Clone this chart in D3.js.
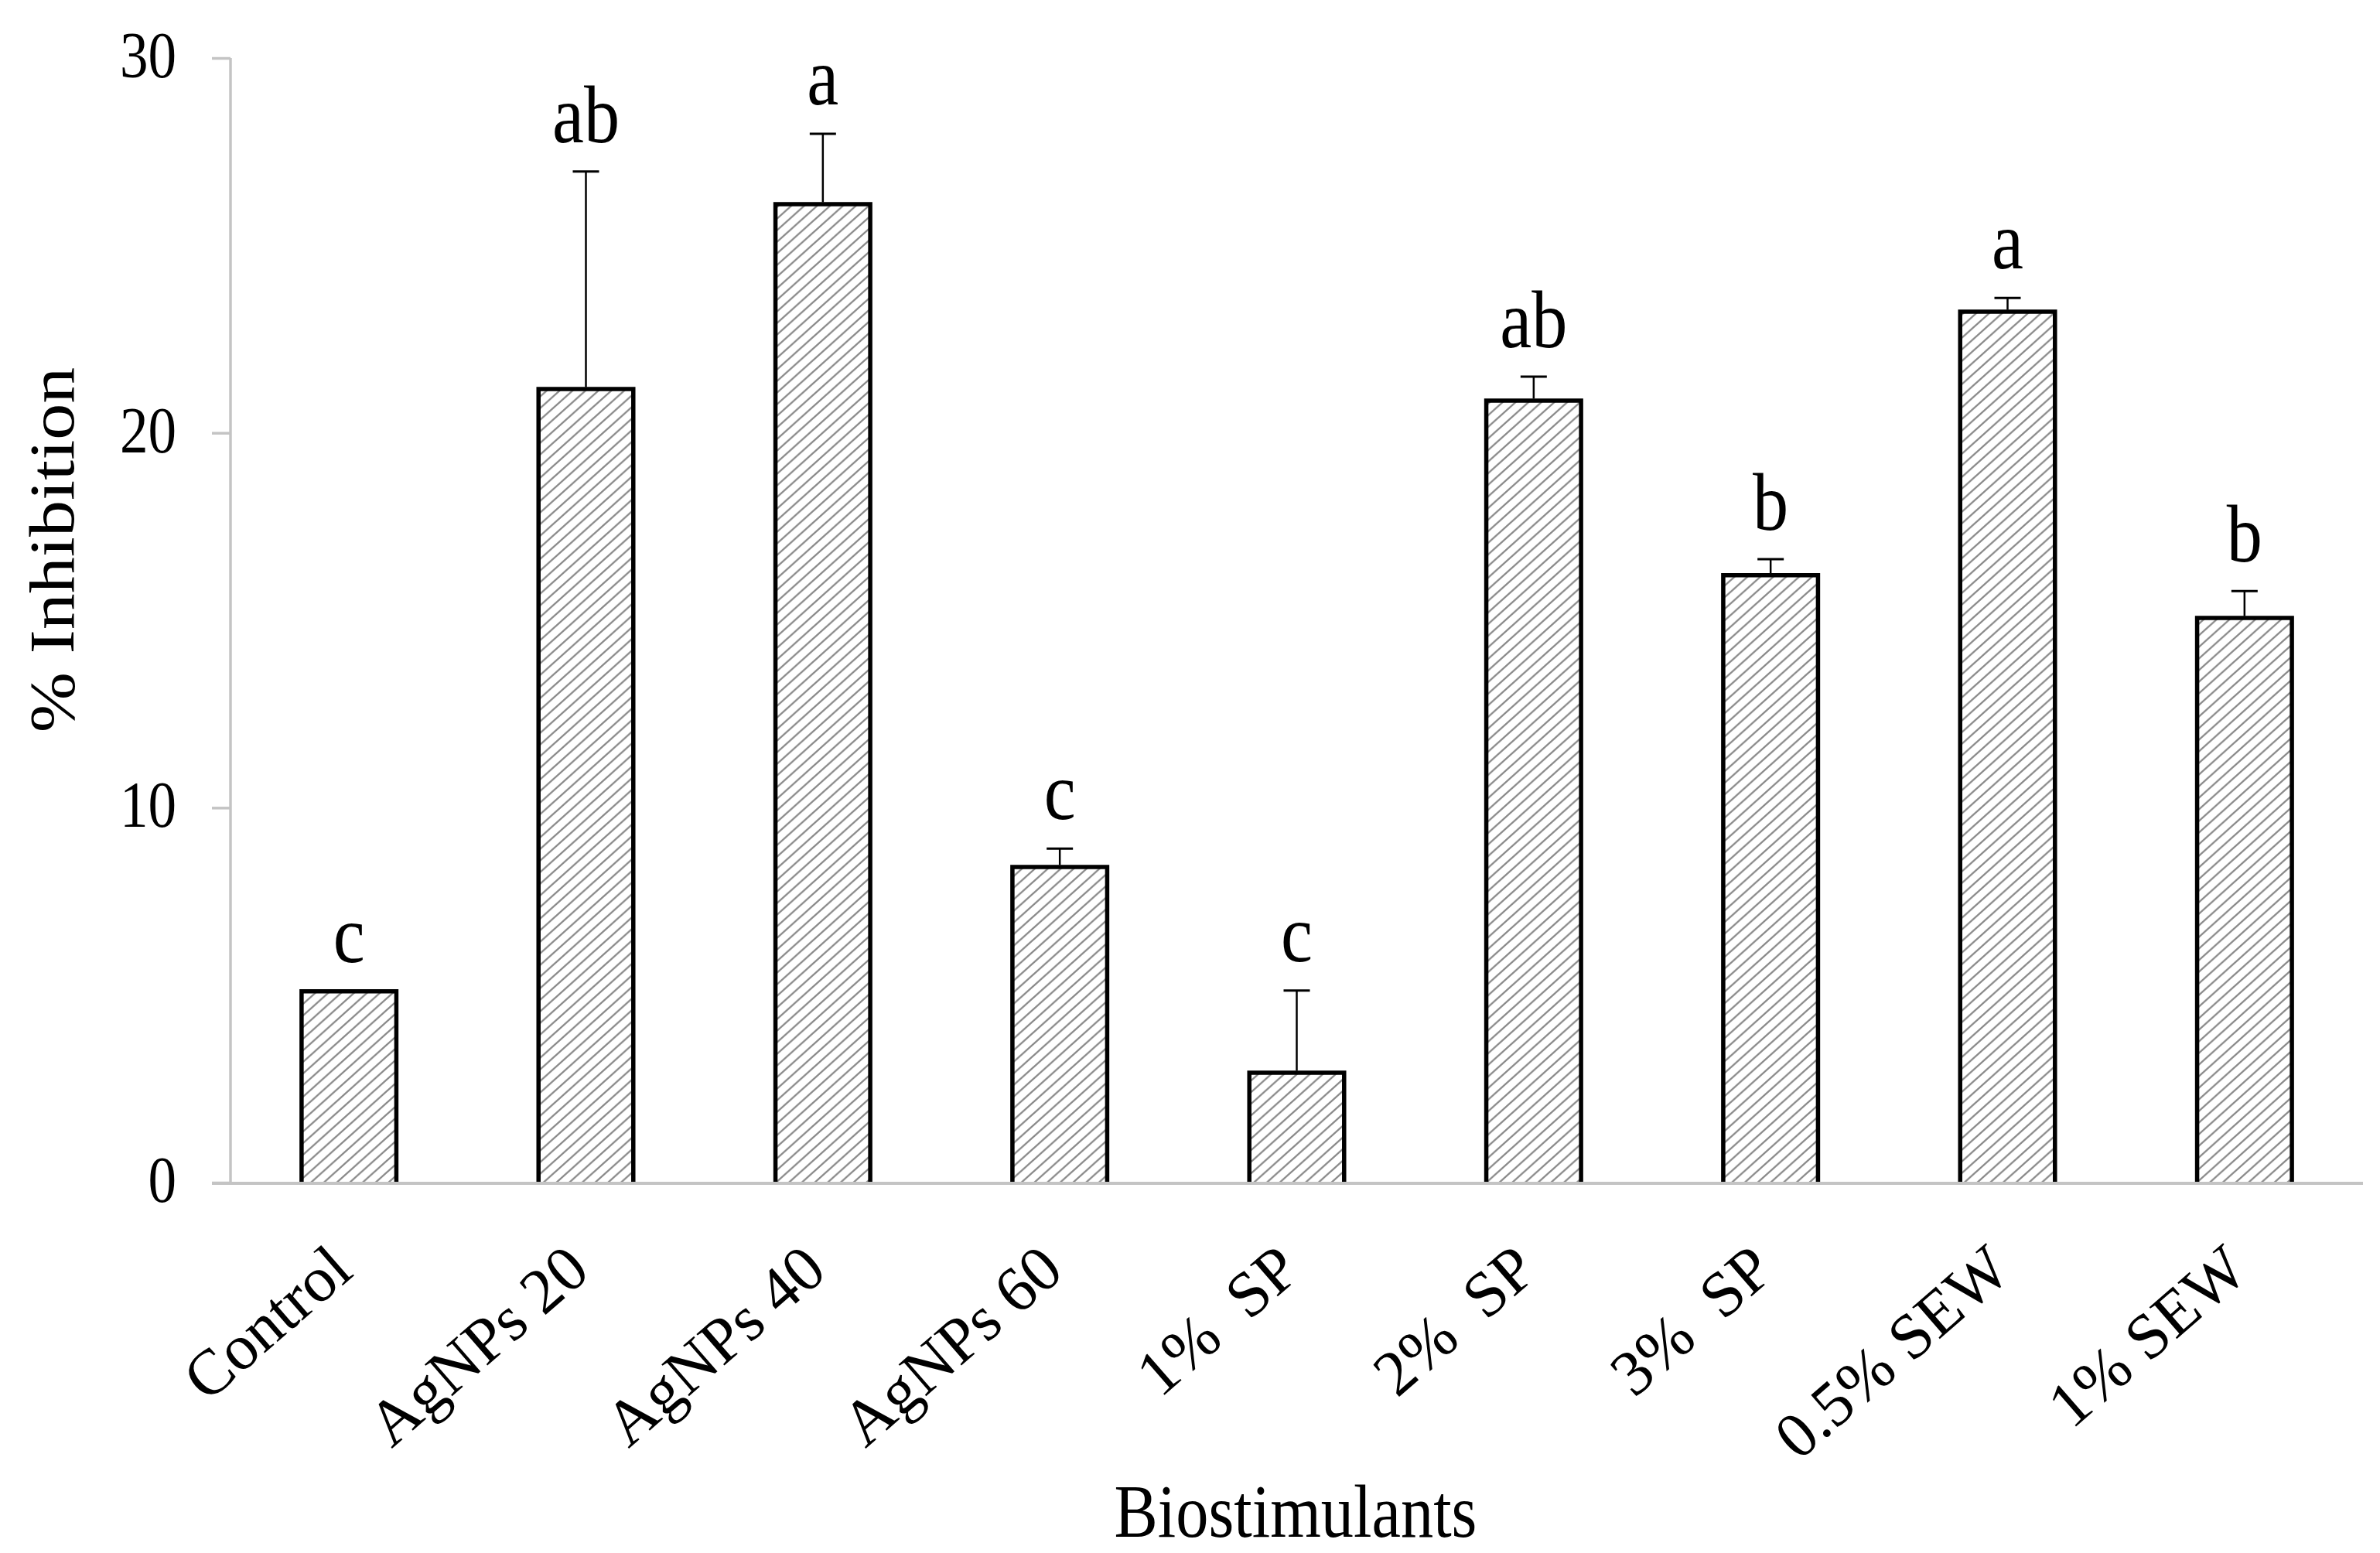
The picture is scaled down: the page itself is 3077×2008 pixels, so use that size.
<!DOCTYPE html>
<html>
<head>
<meta charset="utf-8">
<script src="https://cdn.jsdelivr.net/npm/d3@7"></script>
<style>
  html, body { margin: 0; padding: 0; background: #ffffff; }
  svg { display: block; }
  text { font-family: "Liberation Serif", "Times New Roman", serif; fill: #000; white-space: pre; }
</style>
</head>
<body>
<svg id="chart" width="3077" height="2008"></svg>
<script>
// ---- data ----
const categories = ["Control", "AgNPs 20", "AgNPs 40", "AgNPs 60", "1%  SP", "2%  SP", "3%  SP", "0.5% SEW", "1% SEW"];
const values = [5.10, 21.17, 26.10, 8.42, 2.93, 20.86, 16.20, 23.23, 15.06];
const errors = [0, 5.80, 1.88, 0.49, 2.19, 0.64, 0.43, 0.37, 0.72];
const letters = ["c", "ab", "a", "c", "c", "ab", "b", "a", "b"];
const yTicks = [0, 10, 20, 30];
const yTitle = "% Inhibition";
const xTitle = "Biostimulants";

// ---- layout ----
const W = 3077, H = 2008;
const plot = { left: 298, right: 3055, top: 75, bottom: 1529 };
const sx = 0.87; // horizontal glyph compression seen in the reference

const svg = d3.select("#chart");
svg.append("rect").attr("width", W).attr("height", H).attr("fill", "#fff");

const defs = svg.append("defs");
const pw = 16.7, ph = 15;
const pat = defs.append("pattern")
  .attr("id", "hatch")
  .attr("patternUnits", "userSpaceOnUse")
  .attr("width", pw).attr("height", ph);
pat.append("rect").attr("width", pw).attr("height", ph).attr("fill", "#fff");
pat.append("path")
  .attr("d", `M0,${ph} L${pw},0 M${-pw/2},${ph/2} L${pw/2},${-ph/2} M${pw/2},${ph*1.5} L${pw*1.5},${ph/2}`)
  .attr("stroke", "#8a8a8a").attr("stroke-width", 2.3).attr("fill", "none");

const x = d3.scaleBand()
  .domain(categories)
  .range([plot.left, plot.right])
  .paddingInner(0.6)
  .paddingOuter(0.3);

const y = d3.scaleLinear()
  .domain([0, 30])
  .range([plot.bottom, plot.top]);

const data = categories.map((c, i) => ({ c, v: values[i], e: errors[i], l: letters[i] }));

// ---- bars ----
const bars = svg.append("g");
bars.selectAll("rect.bar")
  .data(data).enter().append("rect")
  .attr("class", "bar")
  .attr("x", d => x(d.c))
  .attr("y", d => y(d.v))
  .attr("width", x.bandwidth())
  .attr("height", d => y(0) - y(d.v))
  .attr("fill", "url(#hatch)");

bars.selectAll("path.outline")
  .data(data).enter().append("path")
  .attr("class", "outline")
  .attr("d", d => {
    const x0 = x(d.c), x1 = x(d.c) + x.bandwidth();
    return `M${x0},${y(0)} L${x0},${y(d.v)} L${x1},${y(d.v)} L${x1},${y(0)}`;
  })
  .attr("fill", "none")
  .attr("stroke", "#000")
  .attr("stroke-width", 5.5)
  .attr("stroke-linejoin", "miter");

// ---- error bars ----
const capHalf = 17;
const eg = svg.append("g");
data.filter(d => d.e > 0).forEach(d => {
  const cx = x(d.c) + x.bandwidth() / 2;
  eg.append("line")
    .attr("x1", cx).attr("x2", cx)
    .attr("y1", y(d.v) - 2.5).attr("y2", y(d.v + d.e))
    .attr("stroke", "#000").attr("stroke-width", 2.5);
  eg.append("line")
    .attr("x1", cx - capHalf).attr("x2", cx + capHalf)
    .attr("y1", y(d.v + d.e)).attr("y2", y(d.v + d.e))
    .attr("stroke", "#000").attr("stroke-width", 3);
});

// ---- significance letters ----
svg.append("g").selectAll("text.letter")
  .data(data).enter().append("text")
  .attr("class", "letter")
  .attr("transform", d => {
    const cx = x(d.c) + x.bandwidth() / 2;
    return `translate(${cx},${y(d.v + d.e) - 38}) scale(${sx},1)`;
  })
  .attr("text-anchor", "middle")
  .attr("font-size", 106)
  .text(d => d.l);

// ---- axes ----
const axisColor = "#c4c4c4";
const yAxis = svg.append("g").attr("transform", `translate(${plot.left},0)`)
  .call(d3.axisLeft(y).tickValues(yTicks).tickSize(24).tickFormat(""));
yAxis.selectAll("path, line").attr("stroke", axisColor).attr("stroke-width", 3.5);
yAxis.select("path.domain").attr("d", `M0,${plot.top}V${plot.bottom}`);

svg.append("g").selectAll("text.ytick")
  .data(yTicks).enter().append("text")
  .attr("class", "ytick")
  .attr("transform", d => `translate(${plot.left - 70},${y(d) + 25}) scale(${sx},1)`)
  .attr("text-anchor", "end")
  .attr("font-size", 84)
  .text(d => d);

const xAxis = svg.append("g").attr("transform", `translate(0,${plot.bottom + 1})`)
  .call(d3.axisBottom(x).tickSize(0).tickFormat(""));
xAxis.select("path.domain")
  .attr("d", `M${plot.left - 24},0H${plot.right}`)
  .attr("stroke", axisColor).attr("stroke-width", 4);

// rotated category labels
svg.append("g").selectAll("text.xlab")
  .data(categories).enter().append("text")
  .attr("class", "xlab")
  .attr("transform", c => {
    const cx = x(c) + x.bandwidth() / 2;
    return `translate(${cx + 8},1648) rotate(-41)`;
  })
  .attr("text-anchor", "end")
  .attr("font-size", 83)
  .text(c => c);

// axis titles
svg.append("text")
  .attr("transform", `translate(95,711) scale(${sx},1) rotate(-90)`)
  .attr("text-anchor", "middle")
  .attr("font-size", 94)
  .text(yTitle);

svg.append("text")
  .attr("transform", `translate(1675,1987) scale(${sx},1)`)
  .attr("text-anchor", "middle")
  .attr("font-size", 97)
  .text(xTitle);
</script>
</body>
</html>
